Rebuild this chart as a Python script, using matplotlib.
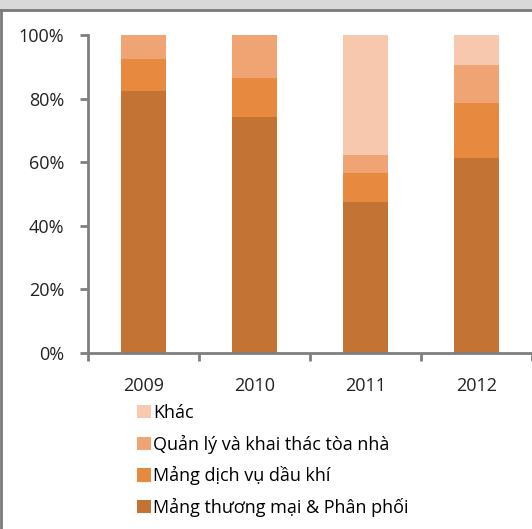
import numpy as np
import matplotlib.pyplot as plt
from matplotlib.patches import Rectangle
from matplotlib.lines import Line2D

years = ["2009", "2010", "2011", "2012"]
thuong_mai = [82.3, 74.3, 47.6, 61.2]
dich_vu = [10.2, 12.1, 9.1, 17.3]
toa_nha = [7.5, 13.6, 5.6, 12.1]
khac = [0.0, 0.0, 37.7, 9.4]

labels = ["Mảng thương mại & Phân phối", "Mảng dịch vụ dầu khí",
          "Quản lý và khai thác tòa nhà", "Khác"]
colors = ["#C37434", "#E78A40", "#F1A473", "#F7C7AE"]

plt.rcParams['font.family'] = ['Open Sans', 'DejaVu Sans']

fig = plt.figure(figsize=(5.32, 5.29), dpi=100)
ax = fig.add_axes([88/532, 1-353/529, 1-88/532, (353-35)/529])

x = np.arange(len(years))
series = [thuong_mai, dich_vu, toa_nha, khac]
bottom = np.zeros(len(years))
handles = []
for vals, c, lab in zip(series, colors, labels):
    b = ax.bar(x, vals, 0.41, bottom=bottom, color=c, label=lab)
    bottom += np.array(vals)
    handles.append(b)

ax.set_xlim(-0.5, 3.5)
ax.set_ylim(0, 100)
ax.set_yticks(np.arange(0, 101, 20))
ax.set_yticklabels([f"{v}%" for v in range(0, 101, 20)])
ax.set_xticks(np.arange(-0.5, 3.6, 1))
ax.set_xticklabels([])
for xi, y in zip(x, years):
    ax.text(xi, -7.5, y, ha='center', va='top', fontsize=13, color='#222222')

for s in ['top', 'right']:
    ax.spines[s].set_visible(False)
for s in ['left', 'bottom']:
    ax.spines[s].set_color('#7f7f7f')
    ax.spines[s].set_linewidth(2)
ax.tick_params(axis='both', colors='#7f7f7f', width=2, length=6, labelcolor='#222222', labelsize=13)
ax.tick_params(axis='y', pad=11)

leg = fig.legend(handles[::-1], labels[::-1], loc='upper left',
                 bbox_to_anchor=(128/532, 1-395/529), frameon=False,
                 fontsize=13, handlelength=0.75, handleheight=0.75,
                 handletextpad=0.15, labelspacing=0.7, borderpad=0)

# outer frame
fig.patches.append(Rectangle((0, 1-9/529), 1, 9/529, transform=fig.transFigure,
                             color='#d9d9d9', zorder=0))
fig.lines.append(Line2D([0, 1], [1-10/529, 1-10/529], transform=fig.transFigure,
                        color='#7a7a7a', lw=2))
fig.lines.append(Line2D([1/532, 1/532], [0, 1-10/529], transform=fig.transFigure,
                        color='#7a7a7a', lw=2))

fig.savefig("out.png", dpi=100)
